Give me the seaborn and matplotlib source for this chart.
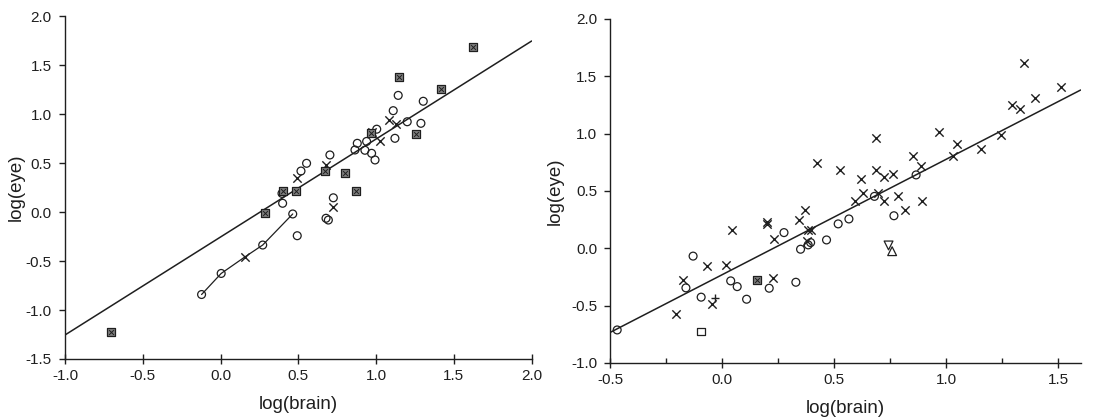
import matplotlib
matplotlib.use("Agg")
import matplotlib.pyplot as plt
import seaborn as sns
from matplotlib.ticker import MultipleLocator

# ---- left panel data ----
left_circle_x = [-0.122, 0.004, 0.271, 0.464, 0.493, 0.399, 0.395, 0.517, 0.553, 0.678, 0.693, 0.725,
                 0.703, 0.864, 0.879, 0.928, 0.939, 0.971, 0.993, 1.004, 1.110, 1.142, 1.121, 1.200,
                 1.288, 1.303]
left_circle_y = [-0.842, -0.627, -0.337, -0.020, -0.242, 0.089, 0.190, 0.418, 0.497, -0.064, -0.082, 0.145,
                 0.582, 0.633, 0.701, 0.630, 0.720, 0.599, 0.531, 0.845, 1.034, 1.190, 0.752, 0.921,
                 0.905, 1.130]
left_cross_x = [0.156, 0.489, 0.678, 0.721, 0.971, 1.025, 1.085, 1.125]
left_cross_y = [-0.459, 0.344, 0.480, 0.054, 0.820, 0.728, 0.940, 0.900]
left_box_x = [-0.707, 0.286, 0.399, 0.483, 0.671, 0.797, 0.871, 0.965, 1.149, 1.254, 1.416, 1.622]
left_box_y = [-1.220, -0.013, 0.210, 0.210, 0.415, 0.400, 0.215, 0.810, 1.373, 0.800, 1.253, 1.680]
# connected sequence
chain_x = [-0.122, 0.004, 0.156, 0.271, 0.464]
chain_y = [-0.842, -0.627, -0.459, -0.337, -0.020]
left_fit = (1.0, -0.255)   # slope, intercept

# ---- right panel data ----
right_circle_x = [-0.470, -0.163, -0.131, -0.095, 0.037, 0.066, 0.108, 0.209, 0.275, 0.328, 0.349, 0.383,
                  0.394, 0.465, 0.517, 0.565, 0.679, 0.766, 0.865]
right_circle_y = [-0.712, -0.345, -0.068, -0.426, -0.284, -0.334, -0.444, -0.348, 0.137, -0.296, -0.008,
                  0.030, 0.050, 0.073, 0.213, 0.256, 0.453, 0.284, 0.640]
right_cross_x = [-0.209, -0.177, -0.071, -0.047, 0.016, 0.041, 0.197, 0.197, 0.230, 0.227, 0.341, 0.368,
                 0.379, 0.383, 0.394, 0.421, 0.523, 0.592, 0.618, 0.626, 0.687, 0.687, 0.695, 0.723,
                 0.723, 0.761, 0.785, 0.814, 0.849, 0.885, 0.893, 0.969, 1.031, 1.047, 1.155, 1.246,
                 1.295, 1.330, 1.349, 1.397, 1.510]
right_cross_y = [-0.572, -0.275, -0.156, -0.490, -0.145, 0.160, 0.233, 0.213, 0.079, -0.261, 0.248, 0.335,
                 0.067, 0.160, 0.160, 0.747, 0.686, 0.410, 0.605, 0.482, 0.966, 0.686, 0.482, 0.622,
                 0.413, 0.645, 0.453, 0.331, 0.803, 0.718, 0.413, 1.015, 0.803, 0.914, 0.870, 0.992,
                 1.246, 1.214, 1.618, 1.313, 1.403]
right_plus_x = [-0.031]
right_plus_y = [-0.435]
right_box_x = [0.153]
right_box_y = [-0.276]
right_square_x = [-0.096]
right_square_y = [-0.724]
right_tri_up_x = [0.758]
right_tri_up_y = [-0.025]
right_tri_down_x = [0.742]
right_tri_down_y = [0.025]
right_fit = (1.006, -0.229)

sns.set_style("ticks")
plt.rcParams["font.family"] = ["Liberation Sans", "DejaVu Sans"]
plt.rcParams["axes.unicode_minus"] = False
ink = "0.12"

fig = plt.figure(figsize=(10.96, 4.19), dpi=100)
ax1 = fig.add_axes([0.0593, 0.1432, 0.4258, 0.8186])
ax2 = fig.add_axes([0.557, 0.1337, 0.429, 0.821])

def open_pts(ax, x, y, marker, s):
    sns.scatterplot(x=x, y=y, ax=ax, marker=marker, s=s, facecolor="none",
                    edgecolor=ink, linewidth=0.9, zorder=3)

def cross_pts(ax, x, y, marker="x", s=36):
    sns.scatterplot(x=x, y=y, ax=ax, marker=marker, s=s, color=ink, linewidth=1.0, zorder=3)

def box_pts(ax, x, y):
    sns.scatterplot(x=x, y=y, ax=ax, marker="s", s=26, facecolor="0.5",
                    edgecolor=ink, linewidth=0.9, zorder=4)
    sns.scatterplot(x=x, y=y, ax=ax, marker="x", s=12, color=ink, linewidth=0.7, zorder=5)

# left
ax1.axline((0, left_fit[1]), slope=left_fit[0], color=ink, lw=1.1, zorder=2)
sns.lineplot(x=chain_x, y=chain_y, ax=ax1, sort=False, estimator=None, color=ink, lw=0.9, zorder=2)
open_pts(ax1, left_circle_x, left_circle_y, "o", 32)
cross_pts(ax1, left_cross_x, left_cross_y)
box_pts(ax1, left_box_x, left_box_y)

# right
ax2.axline((0, right_fit[1]), slope=right_fit[0], color=ink, lw=1.1, zorder=2)
open_pts(ax2, right_circle_x, right_circle_y, "o", 32)
cross_pts(ax2, right_cross_x, right_cross_y)
cross_pts(ax2, right_plus_x, right_plus_y, "+", 30)
box_pts(ax2, right_box_x, right_box_y)
open_pts(ax2, right_square_x, right_square_y, "s", 28)
open_pts(ax2, right_tri_up_x, right_tri_up_y, "^", 40)
open_pts(ax2, right_tri_down_x, right_tri_down_y, "v", 40)

ax1.set_xlim(-1.0, 2.0)
ax1.set_ylim(-1.5, 2.0)
ax1.xaxis.set_major_locator(MultipleLocator(0.5))
ax1.yaxis.set_major_locator(MultipleLocator(0.5))

ax2.set_xlim(-0.5, 1.6)
ax2.set_ylim(-1.0, 2.0)
ax2.set_xticks([-0.5, 0.0, 0.5, 1.0, 1.5])
ax2.xaxis.set_minor_locator(MultipleLocator(0.25))
ax2.yaxis.set_major_locator(MultipleLocator(0.5))

for ax, ypad in ((ax1, 1), (ax2, 5)):
    sns.despine(ax=ax)
    for sp in ("left", "bottom"):
        ax.spines[sp].set_linewidth(1.0)
        ax.spines[sp].set_color(ink)
    ax.xaxis.set_major_formatter(matplotlib.ticker.FormatStrFormatter("%.1f"))
    ax.yaxis.set_major_formatter(matplotlib.ticker.FormatStrFormatter("%.1f"))
    ax.tick_params(axis="x", which="major", direction="inout", length=7, width=1.0,
                   color=ink, labelsize=11, labelcolor=ink, pad=4)
    ax.tick_params(axis="y", which="major", direction="out", length=4, width=1.0,
                   color=ink, labelsize=11, labelcolor=ink, pad=5.5)
    ax.set_xlabel("log(brain)", fontsize=13.5, color=ink, labelpad=9)
    ax.set_ylabel("log(eye)", fontsize=13.5, color=ink, labelpad=ypad)

ax2.tick_params(axis="x", which="minor", direction="in", length=3.5, width=1.0, color=ink)

fig.savefig("out.png", dpi=100)
